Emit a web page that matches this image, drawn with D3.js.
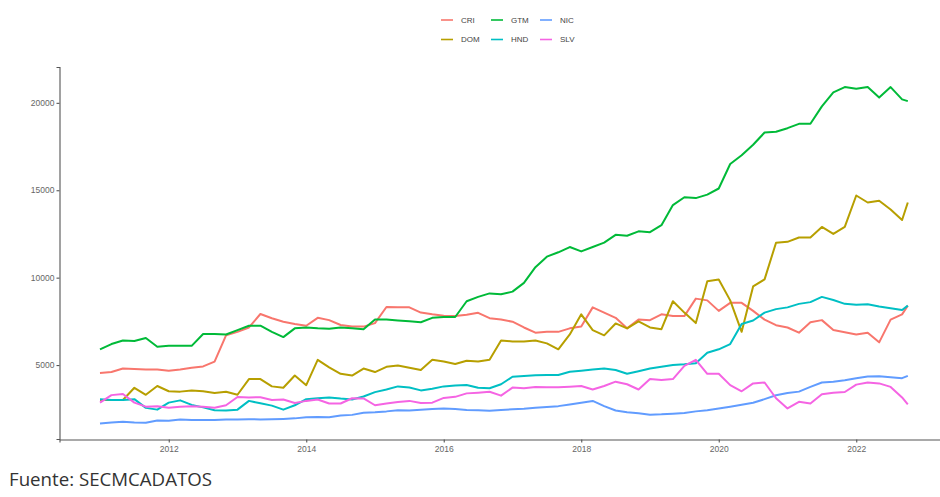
<!DOCTYPE html>
<html>
<head>
<meta charset="utf-8">
<script src="https://cdn.jsdelivr.net/npm/d3@7"></script>
<style>
  body { margin: 0; background: #fff; }
  svg { display: block; font-family: "Liberation Sans", Arial, sans-serif; }
</style>
</head>
<body>
<svg id="chart" width="940" height="497"></svg>
<script>
// bimonthly readings, last point is the final month
var months = [
  "2011-01","2011-03","2011-05","2011-07","2011-09","2011-11",
  "2012-01","2012-03","2012-05","2012-07","2012-09","2012-11",
  "2013-01","2013-03","2013-05","2013-07","2013-09","2013-11",
  "2014-01","2014-03","2014-05","2014-07","2014-09","2014-11",
  "2015-01","2015-03","2015-05","2015-07","2015-09","2015-11",
  "2016-01","2016-03","2016-05","2016-07","2016-09","2016-11",
  "2017-01","2017-03","2017-05","2017-07","2017-09","2017-11",
  "2018-01","2018-03","2018-05","2018-07","2018-09","2018-11",
  "2019-01","2019-03","2019-05","2019-07","2019-09","2019-11",
  "2020-01","2020-03","2020-05","2020-07","2020-09","2020-11",
  "2021-01","2021-03","2021-05","2021-07","2021-09","2021-11",
  "2022-01","2022-03","2022-05","2022-07","2022-09","2022-10"
];

var countries = ["CRI", "DOM", "GTM", "HND", "NIC", "SLV"];
var colors = ["#F8766D", "#B79F00", "#00BA38", "#00BFC4", "#619CFF", "#F564E3"];

var cri = [4550,4600,4800,4780,4750,4750,4680,4750,4850,4920,
           5200,6700,6900,7150,7920,7680,7480,7350,7250,7700,
           7570,7290,7200,7200,7400,8320,8300,8300,8000,7900,
           7820,7800,7880,7990,7680,7600,7480,7150,6850,6900,
           6900,7100,7200,8300,8000,7700,7100,7600,7570,7900,
           7800,7800,8800,8700,8100,8560,8560,8100,7600,7280,
           7150,6850,7450,7570,7000,6880,6750,6850,6300,7600,
           7900,8400];
var dom = [3000,3000,3000,3700,3300,3800,3500,3480,3550,3500,
           3400,3470,3300,4200,4200,3780,3700,4400,3850,5300,
           4870,4500,4400,4800,4600,4900,4980,4850,4720,5300,
           5200,5060,5250,5200,5300,6400,6350,6350,6400,6240,
           5900,6750,7900,7000,6700,7380,7100,7500,7150,7050,
           8650,8000,7400,9800,9900,8700,6900,9500,9900,12000,
           12050,12300,12300,12900,12500,12900,14700,14300,14400,13900,
           13300,14300];
var gtm = [5900,6200,6400,6380,6550,6050,6100,6100,6100,6780,
           6780,6750,7000,7250,7250,6900,6600,7100,7150,7100,
           7080,7150,7100,7050,7600,7600,7550,7500,7450,7700,
           7750,7750,8650,8900,9100,9050,9200,9700,10600,11200,
           11450,11750,11500,11750,12000,12450,12400,12650,12600,13000,
           14150,14600,14550,14750,15100,16500,17000,17600,18300,18350,
           18550,18800,18800,19800,20600,20900,20800,20900,20300,20900,
           20200,20100];
var hnd = [3050,3000,3000,3050,2550,2450,2850,2980,2720,2580,
           2420,2400,2450,2950,2810,2680,2450,2700,3050,3100,
           3150,3080,3030,3200,3450,3600,3780,3720,3550,3650,
           3780,3830,3860,3700,3670,3900,4330,4370,4420,4430,
           4430,4620,4680,4740,4800,4720,4500,4650,4800,4900,
           5000,5040,5100,5700,5900,6200,7350,7550,8000,8200,
           8300,8500,8600,8900,8720,8500,8450,8480,8350,8250,
           8150,8400];
var nic = [1660,1720,1760,1720,1700,1830,1810,1890,1860,1860,
           1850,1890,1880,1900,1890,1900,1920,1950,2020,2030,
           2010,2120,2150,2270,2300,2350,2420,2400,2450,2480,
           2510,2480,2430,2420,2390,2430,2470,2500,2560,2600,
           2650,2750,2850,2950,2650,2400,2300,2240,2160,2180,
           2220,2260,2350,2420,2520,2620,2730,2840,3050,3270,
           3400,3480,3750,4000,4050,4130,4250,4350,4360,4300,
           4250,4380];
var slv = [2850,3280,3340,2850,2620,2650,2560,2620,2650,2620,
           2560,2700,3170,3150,3160,3000,3030,2830,2950,3030,
           2800,2800,3100,3090,2700,2800,2880,2950,2830,2850,
           3120,3180,3380,3420,3470,3250,3710,3670,3750,3730,
           3730,3760,3800,3600,3800,4050,3900,3600,4200,4150,
           4200,4950,5300,4500,4500,3850,3500,3950,4000,3100,
           2520,2900,2800,3330,3420,3460,3880,4000,3950,3750,
           3150,2750];

var yTicks = [5000, 10000, 15000, 20000];
var xTicks = [2012, 2014, 2016, 2018, 2020, 2022];

var seriesValues = [cri, dom, gtm, hnd, nic, slv];

function toYear(s) {
  var p = s.split("-");
  return +p[0] + (+p[1] - 1) / 12;
}

var series = countries.map(function(c, i) {
  return {
    name: c,
    color: colors[i],
    values: months.map(function(m, j) { return {t: toYear(m), v: seriesValues[i][j]}; })
  };
});

var svg = d3.select("#chart");

var x = d3.scaleLinear()
    .domain([2010.411, 2023.371])
    .range([59.5, 950.5]);

var y = d3.scaleLinear()
    .domain([770, 22050])
    .range([439, 67]);

var line = d3.line()
    .x(function(d) { return x(d.t); })
    .y(function(d) { return y(d.v); });

// axes
svg.append("g")
    .attr("transform", "translate(59.5,0)")
    .call(d3.axisLeft(y).tickValues(yTicks).tickFormat(d3.format("d"))
          .tickSizeOuter(0).tickSize(3).tickPadding(2));

svg.append("g")
    .attr("transform", "translate(0,439.5)")
    .call(d3.axisBottom(x).tickValues(xTicks).tickFormat(d3.format("d"))
          .tickSizeOuter(0).tickSize(3).tickPadding(3));

svg.selectAll(".domain, .tick line")
    .attr("stroke", "#555")
    .attr("stroke-width", 1.1);
svg.selectAll(".tick text")
    .attr("fill", "#666")
    .style("font-size", "8.5px")
    .style("font-family", "'Liberation Sans', Arial, sans-serif");

// lines
svg.append("g")
    .selectAll("path")
    .data(series)
    .enter().append("path")
    .attr("fill", "none")
    .attr("stroke", function(d) { return d.color; })
    .attr("stroke-width", 2)
    .attr("stroke-linejoin", "round")
    .attr("d", function(d) { return line(d.values); });

// legend, filled by column in 2 rows
var legendCols = [441, 491, 540];
var legendRows = [20, 39.5];

var legend = svg.append("g")
    .selectAll("g")
    .data(series)
    .enter().append("g")
    .attr("transform", function(d, i) {
      return "translate(" + legendCols[Math.floor(i / 2)] + "," + legendRows[i % 2] + ")";
    });

legend.append("line")
    .attr("x1", 0).attr("x2", 12)
    .attr("stroke", function(d) { return d.color; })
    .attr("stroke-width", 1.6);

legend.append("text")
    .attr("x", 20)
    .attr("dy", "0.35em")
    .attr("fill", "#444")
    .style("font-size", "8px")
    .text(function(d) { return d.name; });

// caption
svg.append("text")
    .attr("x", 9)
    .attr("y", 486)
    .attr("fill", "#333")
    .attr("textLength", 203)
    .attr("lengthAdjust", "spacingAndGlyphs")
    .style("font-family", "'Open Sans', sans-serif")
    .style("font-size", "18px")
    .text("Fuente: SECMCADATOS");
</script>
</body>
</html>
